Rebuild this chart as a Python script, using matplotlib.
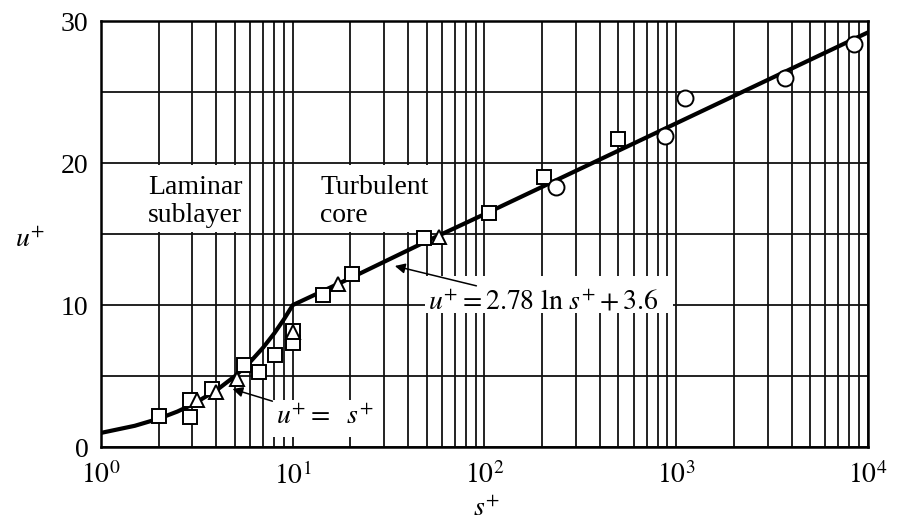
import matplotlib
matplotlib.use('Agg')
import matplotlib.pyplot as plt
from matplotlib.patches import Rectangle
from matplotlib.ticker import FixedLocator, LogLocator, NullFormatter

# curve (viscous sublayer + log law)
curve_s = [1, 1.5, 2, 2.5, 3, 4, 5, 6, 7, 8, 9, 10, 20, 50, 100, 1000, 10000]
curve_u = [1, 1.5, 2, 2.5, 3, 4, 5, 6, 7, 8, 9, 10, 11.9, 14.5, 16.4, 22.8, 29.2]

# measured points
sq_s = [2.0, 2.9, 2.9, 3.8, 5.6, 6.7, 8.1, 10, 10, 14.3, 20.3, 48.5, 105, 204, 500]
sq_u = [2.2, 3.3, 2.1, 4.1, 5.8, 5.3, 6.5, 8.2, 7.35, 10.7, 12.2, 14.7, 16.5, 19.0, 21.7]
tri_s = [3.15, 4.0, 5.1, 10, 17.3, 58]
tri_u = [3.3, 3.9, 4.8, 8.1, 11.5, 14.8]
circ_s = [236, 870, 1110, 3700, 8500]
circ_u = [18.3, 21.9, 24.6, 26.0, 28.4]

x_ticks = [1, 10, 100, 1000, 10000]
x_labels = ['$10^{0}$', '$10^{1}$', '$10^{2}$', '$10^{3}$', '$10^{4}$']
y_ticks = [0, 10, 20, 30]

plt.rcParams['font.family'] = ['Liberation Serif', 'DejaVu Serif']
plt.rcParams['mathtext.fontset'] = 'stix'
fs = 20

fig = plt.figure(figsize=(8.97, 5.26), dpi=100)
ax = fig.add_axes([0.1126, 0.150, 0.855, 0.810])
ax.set_xscale('log')
ax.set_xlim(1, 1e4)
ax.set_ylim(0, 30)

ax.xaxis.set_major_locator(FixedLocator(x_ticks))
ax.xaxis.set_minor_locator(LogLocator(base=10, subs=range(2, 10)))
ax.xaxis.set_minor_formatter(NullFormatter())
ax.set_xticklabels(x_labels, fontsize=fs)
ax.yaxis.set_major_locator(FixedLocator(y_ticks))
ax.yaxis.set_minor_locator(FixedLocator([5, 15, 25]))
ax.set_yticklabels([str(v) for v in y_ticks], fontsize=fs)
ax.tick_params(which='both', length=0)
ax.tick_params(axis='x', pad=11)
ax.tick_params(axis='y', pad=9)
ax.grid(True, which='both', color='#111111', lw=1.3, zorder=0)
ax.set_axisbelow(True)
for sp in ax.spines.values():
    sp.set_linewidth(1.8)

# white patches behind the labels (they cut the grid in the original)
boxes = [((1.02, 15.15), 5.75 - 1.02, 4.7),
         ((10.3, 15.15), 58 - 10.3, 4.7),
         ((49, 9.45), 960 - 49, 2.6),
         ((7.6, 0.7), 23.8 - 7.6, 2.6)]
for (x0, y0), w, h in boxes:
    ax.add_patch(Rectangle((x0, y0), w, h, facecolor='white', edgecolor='none', zorder=1))

ax.plot(curve_s, curve_u, color='black', lw=3.0, zorder=3)

mk = dict(linestyle='none', markerfacecolor='white', markeredgecolor='black',
          markeredgewidth=1.4, zorder=4)
ax.plot(sq_s, sq_u, marker='s', markersize=10, **mk)
ax.plot(tri_s, tri_u, marker='^', markersize=10, **mk)
ax.plot(circ_s, circ_u, marker='o', markersize=11.5, **mk)

ax.text(1.76, 17.3, 'Laminar\nsublayer', fontsize=fs, va='center', ha='left', zorder=5)
ax.text(13.9, 17.3, 'Turbulent\ncore', fontsize=fs, va='center', ha='left', zorder=5)

arrow = dict(arrowstyle='-|>', color='black', lw=1.1, mutation_scale=15)
ax.annotate(r'$u^{+} = 2.78\ \mathrm{ln}\ s^{+} + 3.6$', xy=(33, 12.8), xytext=(51, 10.2),
            fontsize=fs, va='center', ha='left', arrowprops=arrow, zorder=5)
ax.annotate(r'$u^{+} =\ \ s^{+}$', xy=(4.7, 4.15), xytext=(8.2, 2.1),
            fontsize=fs, va='center', ha='left', arrowprops=arrow, zorder=5)

ax.set_ylabel('$u^{+}$', fontsize=fs, rotation=0, va='center')
ax.yaxis.set_label_coords(-0.093, 0.486)
ax.set_xlabel('$s^{+}$', fontsize=fs, va='center')
ax.xaxis.set_label_coords(0.503, -0.146)

fig.savefig('out.png', dpi=100)
